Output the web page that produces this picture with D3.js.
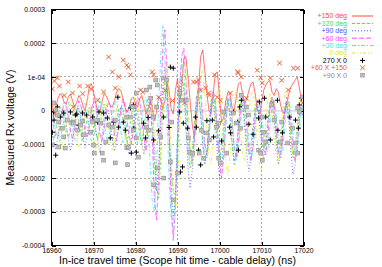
<!DOCTYPE html>
<html>
<head>
<meta charset="utf-8">
<script src="https://cdn.jsdelivr.net/npm/d3@7"></script>
<style>
body { margin: 0; background: #fff; }
svg { display: block; font-family: "Liberation Sans", Arial, sans-serif; }
</style>
</head>
<body>
<div id="chart"></div>
<script>

// Waveforms sampled every 0.5 ns from 16960 ns, values in units of 1e-4 V
var t0 = 16960, dt = 0.5, unit = 1e-4;

var deg150 = [0.4, -0.2, 0.1, 0.35, 0.5, 0.45, 0.25, 0.2, 0.4, 0.5,
    0.3, 0.1, 0.25, 0.45, 0.35, 0.15, 0.0, 0.3, 0.7, 0.8,
    0.55, 0.25, 0.0, -0.05, 0.25, 0.5, 0.45, 0.3, 0.15, 0.1,
    0.3, 0.55, 0.65, 0.6, 0.35, 0.1, -0.05, 0.1, 0.35, 0.4,
    0.2, 0.1, 0.35, 0.45, 0.2, -0.1, 0.05, 0.3, 0.1, -0.3,
    -0.05, 0.4, 0.35, 0.05, 0.3, 0.85, 0.6, 0.05, -0.1, 0.6,
    0.95, 0.2, 0.7, 1.55, 1.6, 1.0, 0.3, -0.4, -0.8, -0.3,
    0.6, 1.6, 1.8, 1.2, 0.5, 0.0, -0.1, 0.5, 1.1, 1.15,
    0.4, -0.35, -0.2, 0.3, 0.55, 0.5, 0.1, 0.0, 0.4, 0.8,
    0.85, 0.5, 0.2, 0.35, 0.6, 0.8, 0.85, 0.5, 0.05, -0.1,
    0.2, 0.6, 0.75, 0.85, 0.9, 0.55, 0.45, 0.65, 0.55, 0.2,
    -0.05, -0.1, 0.2, 0.5, 0.7, 0.8, 0.9, 1.0, 0.7, 0.3,
    0.2];

var deg120 = [-0.6,
    -0.85, -0.6, -0.2, 0.1, 0.05, -0.3, -0.6,
    -0.8, -0.55, -0.15, 0.15, 0.0, -0.35, -0.7,
    -0.9, -0.6, -0.2, 0.1, 0.05, -0.3, -0.65,
    -0.85, -0.5, -0.1, 0.2, 0.0, -0.4, -0.75,
    -0.9, -0.65, -0.25, 0.05, 0.1, -0.3, -0.7,
    -0.95, -0.6, -0.15, 0.2, 0.1, -0.3, -0.7,
    -1.0, -0.5, 0.0, 0.4, 0.3, -0.5, -1.6,
    -2.3, -2.6, -1.4, 0.1, 1.0, 0.6, -0.6, -1.8, -2.4, -2.5,
    -1.5, 0.0, 0.9, 0.8, -0.2, -1.2, -1.7, -1.3, -0.4, 0.4,
    0.6, -0.1, -0.9, -1.5, -1.2, -0.5, 0.3, 0.5, -0.1, -0.9,
    -1.4, -1.1, -0.4, 0.2, 0.4, -0.2, -1.0, -1.6, -1.3, -0.5,
    0.2, 0.3, -0.3, -1.0, -1.3, -1.0, -0.4, 0.1, 0.3, -0.2,
    -0.8, -1.2, -0.9, -0.3, 0.2, 0.4, -0.1, -0.7, -1.3, -1.0,
    -0.4, 0.1, 0.3, -0.2, -0.8, -1.4, -1.1, -0.5, 0.0, 0.2,
    -0.2];

var deg90 = [-0.5, -0.9,
    -1.15, -0.8, -0.3, 0.05, 0.0, -0.4, -0.8,
    -1.2, -0.9, -0.35, 0.0, 0.1, -0.3, -0.8,
    -1.1, -0.7, -0.2, 0.1, 0.0, -0.5, -0.9,
    -1.25, -0.85, -0.3, 0.05, 0.0, -0.4, -0.85,
    -1.2, -0.8, -0.25, 0.1, 0.05, -0.4, -0.9,
    -1.3, -0.9, -0.3, 0.1, 0.0, -0.45, -0.95,
    -1.3, -0.6, 0.1, 0.5, 0.2, -1.0,
    -2.4, -1.8, -0.4, 0.7, 1.3, 0.8, -0.6, -2.2, -3.2, -2.6,
    -0.9, 0.4, 1.0, 0.6, -0.5, -1.7, -2.3, -1.8, -0.8, 0.1,
    0.4, -0.1, -1.0, -1.6, -1.3, -0.5, 0.2, 0.3, -0.4, -1.3,
    -2.0, -1.6, -0.7, 0.0, 0.3, -0.1, -0.9, -1.5, -1.2, -0.4,
    0.2, 0.2, -0.5, -1.3, -1.8, -1.4, -0.6, 0.0, 0.2, -0.3,
    -1.0, -1.4, -1.1, -0.4, 0.1, 0.2, -0.3, -1.0, -1.6, -1.3,
    -0.6, 0.0, 0.2, -0.3, -1.2, -1.9, -1.6, -0.8, -0.1, 0.1,
    -0.3];

var deg60 = [-0.2, -0.5, -0.75,
    -0.8, -0.5, -0.1, 0.25, 0.2, -0.2, -0.6,
    -0.85, -0.55, -0.1, 0.3, 0.15, -0.25, -0.6,
    -0.8, -0.5, 0.0, 0.3, 0.2, -0.2, -0.65,
    -0.9, -0.6, -0.1, 0.25, 0.15, -0.3, -0.7,
    -0.9, -0.5, 0.0, 0.35, 0.2, -0.3, -0.75,
    -1.0, -0.6, 0.0, 0.4, 0.3, -0.3, -0.8,
    -1.2, -0.5, 0.4, -0.8, -2.6,
    -3.25, -2.0, 0.2, 1.8, 2.4, 1.2, -0.8, -2.8, -3.85, -2.9,
    -0.9, 0.7, 1.6, 1.85, 0.9, -0.4, -1.2, -1.5, -0.9, 0.2,
    0.9, 0.7, -0.2, -1.0, -1.3, -0.8, 0.1, 0.6, 0.3, -0.6,
    -1.5, -2.0, -1.4, -0.4, 0.3, 0.4, -0.3, -1.1, -1.4, -0.9,
    -0.1, 0.4, 0.2, -0.5, -1.2, -1.5, -1.0, -0.2, 0.3, 0.3,
    -0.4, -1.1, -1.3, -0.8, 0.0, 0.4, 0.2, -0.5, -1.2, -1.4,
    -0.9, -0.1, 0.4, 0.3, -0.4, -1.1, -1.5, -1.1, -0.3, 0.2,
    0.1];

var deg30 = [-0.1, -0.3, -0.6, -0.85,
    -0.9, -0.6, -0.2, 0.2, 0.3, 0.0, -0.5,
    -0.85, -0.9, -0.5, -0.1, 0.25, 0.2, -0.2,
    -0.6, -0.9, -0.8, -0.4, 0.0, 0.3, 0.15,
    -0.3, -0.75, -0.95, -0.7, -0.2, 0.2, 0.3,
    -0.1, -0.6, -0.95, -0.8, -0.3, 0.15, 0.35,
    0.0, -0.5, -1.0, -0.9, -0.3, 0.3, 0.4,
    -0.4, -1.6, -2.7, -3.0,
    -1.8, 0.2, 1.6, 2.5, 1.6, -0.2, -2.0, -3.2, -3.6, -2.6,
    -0.6, 0.8, 1.4, 1.2, 0.2, -0.8, -1.5, -1.6, -0.8, 0.1,
    0.6, 0.4, -0.4, -1.2, -1.4, -0.8, 0.0, 0.4, 0.2, -0.5,
    -1.2, -1.6, -1.2, -0.3, 0.3, 0.3, -0.3, -1.0, -1.5, -1.2,
    -0.4, 0.2, 0.3, -0.2, -0.9, -1.4, -1.2, -0.5, 0.1, 0.3,
    0.0, -0.7, -1.3, -1.2, -0.5, 0.1, 0.3, -0.1, -0.8, -1.3,
    -1.2, -0.5, 0.1, 0.3, 0.0, -0.7, -1.3, -1.3, -0.6, 0.0,
    0.2];

var deg0 = [0.0, 0.2, 0.0, -0.4, -0.9,
    -1.15, -0.9, -0.4, 0.1, 0.4, 0.2, -0.3,
    -0.8, -1.1, -1.0, -0.5, 0.1, 0.4, 0.3,
    -0.2, -0.8, -1.15, -1.0, -0.4, 0.2, 0.5,
    0.3, -0.3, -0.9, -1.2, -0.9, 0.0, 0.6,
    0.75, 0.3, -0.4, -1.0, -1.2, -0.8, 0.0,
    0.5, 0.4, -0.3, -1.0, -1.3, -0.9, 0.0,
    0.5, 0.2, -0.8,
    -1.7, -2.0, -1.2, 0.2, 1.1, 1.3, 0.3, -1.2, -2.4, -2.95,
    -2.4, -0.8, 0.6, 1.4, 1.2, 0.2, -0.9, -1.6, -1.4, -0.5,
    0.4, 1.0, 1.2, 0.5, -0.6, -1.4, -1.6, -1.0, 0.0, 0.6,
    0.7, 0.1, -0.8, -1.6, -1.9, -1.3, -0.3, 0.4, 0.6, 0.2,
    -0.6, -1.3, -1.5, -1.0, -0.1, 0.5, 0.6, 0.0, -0.9, -1.6,
    -1.8, -1.2, -0.3, 0.4, 0.5, 0.0, -0.8, -1.4, -1.5, -0.9,
    -0.1, 0.5, 0.6, 0.1, -0.7, -1.3, -1.4, -0.8, 0.0, 0.5,
    0.4];

// Measured points [time ns, value 1e-4 V]
var cross270x0 = [[16960.2, -0.64], [16960.5, -0.04], [16960.6, -0.28], [16961.0, -1.32],
    [16961.4, 0.11], [16962.1, -0.19], [16962.9, -0.07], [16964.5, -0.04], [16965.7, -0.13],
    [16966.0, -0.1], [16966.4, -0.43], [16967.4, -0.07], [16968.3, -0.13], [16969.8, -0.19],
    [16971.0, -0.34], [16971.3, -0.04], [16972.4, -0.07], [16973.3, -0.22], [16974.0, -0.81],
    [16974.8, -0.34], [16975.8, 0.4], [16976.0, -0.49], [16977.1, -0.34], [16977.6, -0.58],
    [16978.8, 0.08], [16979.0, -1.26], [16979.5, 0.17], [16979.6, -0.52], [16980.2, -1.23],
    [16981.9, -0.37], [16982.4, -0.81], [16983.0, -0.2], [16984.3, -0.87], [16985.5, -0.6],
    [16986.7, -0.19], [16988.0, -0.5], [16988.3, 1.29], [16989.0, 1.26], [16990.5, -0.04],
    [16990.7, -1.82], [16991.2, -1.67], [16991.4, -0.37], [16992.4, -0.52], [16994.3, -0.19],
    [16994.5, -0.49], [16995.0, -1.17], [16995.5, -1.61], [16997.0, -0.3], [16998.3, -0.28],
    [16998.6, -0.78], [17000.5, -0.9], [17002.4, -0.49], [17002.6, -0.66], [17003.3, -0.04],
    [17004.3, -0.34], [17004.5, -1.17], [17004.8, 0.11], [17005.2, 0.31], [17007.0, -0.4],
    [17008.0, -0.7], [17009.3, -0.22], [17009.5, 0.26], [17010.7, 0.37], [17011.0, -0.19],
    [17012.1, -0.87], [17013.8, 0.31], [17013.9, -0.58], [17015.0, -0.66], [17016.7, -0.19],
    [17018.1, -0.28], [17018.8, -0.52], [17019.0, 0.17], [17019.5, 0.37]];

var cross60x150 = [[16960.2, 0.64], [16960.7, 0.88], [16961.4, 0.97], [16961.9, 0.73],
    [16963.0, 0.45], [16964.0, 0.85], [16965.0, 0.52], [16965.2, 0.11], [16966.7, 0.73],
    [16967.4, 0.5], [16968.6, 0.73], [16969.5, 0.64], [16971.0, 0.31], [16972.4, 0.55],
    [16973.6, 1.59], [16974.5, 1.15], [16975.2, 0.67], [16976.0, 1.0], [16977.1, 1.5],
    [16977.9, 1.35], [16978.3, 1.29], [16978.8, 1.06], [16981.2, 0.61], [16981.7, 0.55],
    [16984.0, 1.15], [16984.3, 1.06], [16985.5, 0.4], [16987.1, 0.6], [16988.8, 0.3],
    [16990.7, 0.52], [16991.7, 0.23], [16993.8, 0.85], [16994.5, 0.85], [16995.0, 0.91],
    [16995.5, 0.61], [16996.7, 0.67], [16997.4, 0.52], [16997.6, 0.46], [16998.8, 1.06],
    [16999.5, 0.4], [17000.2, 0.31], [17002.6, 0.52], [17004.3, 1.15], [17004.5, 1.12],
    [17005.2, 1.0], [17006.4, 0.37], [17009.0, 1.2], [17009.8, 0.97], [17010.2, 0.82],
    [17012.1, 0.97], [17012.6, 0.23], [17014.3, 1.41], [17014.8, 0.9], [17016.4, 0.61],
    [17017.6, 1.26], [17018.6, 1.26], [17019.8, 0.23]];

var cross90x0 = [[16960.5, 0.23], [16961.0, 0.02], [16961.4, -0.13], [16961.7, -0.34],
    [16960.2, -1.02], [16961.7, -1.08], [16962.6, -0.52], [16962.9, -0.78], [16963.3, -1.11],
    [16963.8, -0.28], [16965.0, -0.34], [16965.2, -0.37], [16966.2, -0.58], [16966.9, -0.43],
    [16967.4, -0.31], [16967.6, -0.72], [16969.3, -0.64], [16969.8, -0.34], [16970.0, -1.02],
    [16970.2, -1.26], [16971.0, -0.28], [16971.7, -0.37], [16972.1, -1.26], [16972.4, -1.47],
    [16972.9, -0.93], [16973.6, -0.43], [16974.5, -0.49], [16975.2, -1.55], [16975.2, -0.28],
    [16977.9, -0.19], [16977.9, -1.1], [16978.1, -1.6], [16978.3, -1.08], [16978.8, -0.19],
    [16979.3, 0.11], [16979.5, -0.58], [16980.2, 0.52], [16980.2, -0.81], [16980.7, -1.38],
    [16982.6, 0.61], [16982.6, -0.49], [16983.1, -0.58], [16983.6, 0.37], [16983.4, 0.7],
    [16984.3, -0.19], [16984.3, -2.2], [16984.8, 0.91], [16985.0, 0.11], [16985.2, 0.76],
    [16985.2, -1.7], [16986.0, -0.78], [16986.7, 0.97], [16986.7, -2.0], [16987.4, 0.91],
    [16988.3, -1.52], [16988.6, -0.34], [16989.0, -2.65], [16990.0, -1.85], [16990.5, 0.52],
    [16991.0, 0.31], [16992.1, 0.31], [16992.6, -0.81], [16992.9, -1.23], [16993.6, -1.26],
    [16995.2, -1.26], [16995.7, -0.58], [16996.2, -1.41], [16996.9, -0.66], [16997.6, -0.87],
    [16999.3, -0.49], [16999.8, -0.37], [16999.8, -1.41], [17000.2, -1.55], [17001.0, -0.04],
    [17001.7, -1.26], [17003.3, -0.07], [17004.0, -0.37], [17005.0, -0.52], [17005.2, 0.46],
    [17006.4, 0.11], [17006.9, -0.13], [17009.3, -1.17], [17009.8, -1.26], [17010.2, -1.47],
    [17010.2, -0.19], [17010.5, -0.64], [17011.0, -0.93], [17012.4, 0.17], [17013.1, -0.28],
    [17014.5, -0.93], [17014.8, -0.34], [17016.2, -0.96], [17017.4, -0.52], [17018.1, -0.96],
    [17018.6, -1.26], [17018.6, 0.08], [17019.0, -0.04], [17019.8, 0.4]];

var xTicks = [16960, 16970, 16980, 16990, 17000, 17010, 17020];
var yTicks = [-4e-4, -3e-4, -2e-4, -1e-4, 0, 1e-4, 2e-4, 3e-4];
var yTickLabels = ["-0.0004", "-0.0003", "-0.0002", "-0.0001", "0", "1e-04", "0.0002", "0.0003"];

var lineSeries = [
    { name: "+150 deg", values: deg150, color: "#ff4646", dash: null },
    { name: "+120 deg", values: deg120, color: "#44dc44", dash: "3,2" },
    { name: "+90 deg", values: deg90, color: "#5050ff", dash: "1,2" },
    { name: "+60 deg", values: deg60, color: "#ff48ff", dash: "5,2" },
    { name: "+30 deg", values: deg30, color: "#3ae6e6", dash: "4,2,1,2" },
    { name: "0 deg", values: deg0, color: "#e8e800", dash: "3,2,1,2,1,2" }
];
var pointSeries = [
    { name: "270 X 0", values: cross270x0, color: "#000", shape: "plus" },
    { name: "+60 X +150", values: cross60x150, color: "#f25a2c", shape: "cross" },
    { name: "+90 X 0", values: cross90x0, color: "#8c8c8c", shape: "box" }
];

var W = 382, H = 267;
var frame = { left: 51.5, right: 303.5, top: 9.5, bottom: 245.5 };

var x = d3.scaleLinear().domain([16960, 17020]).range([frame.left, frame.right]);
var y = d3.scaleLinear().domain([-4e-4, 3e-4]).range([frame.bottom, frame.top]);

var svg = d3.select("#chart").append("svg")
    .attr("width", W)
    .attr("height", H);

svg.append("defs").append("clipPath").attr("id", "plotclip")
    .append("rect")
    .attr("x", frame.left).attr("y", frame.top)
    .attr("width", frame.right - frame.left).attr("height", frame.bottom - frame.top);

// Grid
var grid = svg.append("g").attr("stroke", "#a9a9a9").attr("stroke-dasharray", "2,2")
    .attr("shape-rendering", "crispEdges");
grid.selectAll(".gx").data(xTicks.slice(1, -1)).enter().append("line")
    .attr("x1", function (d) { return x(d); }).attr("x2", function (d) { return x(d); })
    .attr("y1", frame.top).attr("y2", frame.bottom);
grid.selectAll(".gy").data(yTicks.slice(1, -1)).enter().append("line")
    .attr("x1", frame.left).attr("x2", frame.right)
    .attr("y1", function (d) { return y(d); }).attr("y2", function (d) { return y(d); });

// zero axis
svg.append("line")
    .attr("x1", frame.left).attr("x2", frame.right)
    .attr("y1", y(0)).attr("y2", y(0))
    .attr("stroke", "#e0e0e0").attr("stroke-width", 2);

// Axes with inward ticks on all four sides
function styleAxis(g) {
    g.select(".domain").remove();
    g.selectAll(".tick line").attr("stroke", "#000").attr("shape-rendering", "crispEdges");
    g.selectAll("text").attr("fill", "#000").style("font-size", "6.8px")
        .style("font-family", "'Liberation Sans', Arial, sans-serif");
}
svg.append("g").attr("transform", "translate(" + frame.left + ",0)")
    .call(d3.axisLeft(y).tickValues(yTicks).tickSize(-4).tickPadding(6.5)
        .tickFormat(function (d, i) { return yTickLabels[i]; }))
    .call(styleAxis);
svg.append("g").attr("transform", "translate(" + frame.right + ",0)")
    .call(d3.axisRight(y).tickValues(yTicks).tickSize(-4).tickFormat(""))
    .call(styleAxis);
svg.append("g").attr("transform", "translate(0," + frame.bottom + ")")
    .call(d3.axisBottom(x).tickValues(xTicks).tickSize(-4).tickPadding(2.5)
        .tickFormat(d3.format("d")))
    .call(styleAxis);
svg.append("g").attr("transform", "translate(0," + frame.top + ")")
    .call(d3.axisTop(x).tickValues(xTicks).tickSize(-4).tickFormat(""))
    .call(styleAxis);

// Waveform lines
var plot = svg.append("g").attr("clip-path", "url(#plotclip)");
var line = d3.line()
    .x(function (d, i) { return x(t0 + i * dt); })
    .y(function (d) { return y(d * unit); });

lineSeries.forEach(function (s) {
    plot.append("path")
        .attr("d", line(s.values))
        .attr("fill", "none")
        .attr("stroke", s.color)
        .attr("stroke-width", 0.9)
        .attr("stroke-opacity", 0.85)
        .attr("stroke-dasharray", s.dash);
});

// Point markers
function drawMarker(g, shape, color) {
    if (shape === "plus") {
        g.append("path").attr("d", "M-2.5,0H2.5M0,-2.5V2.5")
            .attr("stroke", color).attr("stroke-width", 1).attr("fill", "none");
    } else if (shape === "cross") {
        g.append("path").attr("d", "M-2.3,-2.3L2.3,2.3M-2.3,2.3L2.3,-2.3")
            .attr("stroke", color).attr("stroke-width", 1).attr("fill", "none");
    } else {
        g.append("rect").attr("x", -1.8).attr("y", -1.8).attr("width", 3.6).attr("height", 3.6)
            .attr("stroke", "#9a9a9a").attr("stroke-width", 0.9).attr("fill", "#e2e2e2");
        g.append("path").attr("d", "M-1.3,-1.3L1.3,1.3M-1.3,1.3L1.3,-1.3")
            .attr("stroke", color).attr("stroke-width", 0.6);
    }
}

pointSeries.forEach(function (s) {
    plot.selectAll(null).data(s.values).enter().append("g")
        .attr("transform", function (d) { return "translate(" + x(d[0]) + "," + y(d[1] * unit) + ")"; })
        .each(function () { drawMarker(d3.select(this), s.shape, s.color); });
});

// Border
svg.append("rect")
    .attr("x", frame.left).attr("y", frame.top)
    .attr("width", frame.right - frame.left).attr("height", frame.bottom - frame.top)
    .attr("fill", "none").attr("stroke", "#000").attr("stroke-width", 1)
    .attr("shape-rendering", "crispEdges");

// Legend
var keyTextX = 347, keySampleX1 = 352, keySampleX2 = 373, keyY0 = 16, keyStep = 7.4;
var key = svg.append("g").style("font-size", "7px");

lineSeries.forEach(function (s, i) {
    var yy = keyY0 + i * keyStep;
    key.append("text").attr("x", keyTextX).attr("y", yy).attr("dy", "0.35em")
        .attr("text-anchor", "end").attr("fill", s.color).text(s.name);
    key.append("line").attr("x1", keySampleX1).attr("x2", keySampleX2)
        .attr("y1", yy).attr("y2", yy)
        .attr("stroke", s.color).attr("stroke-width", 1)
        .attr("stroke-dasharray", s.dash);
});
pointSeries.forEach(function (s, i) {
    var yy = keyY0 + (i + lineSeries.length) * keyStep;
    key.append("text").attr("x", keyTextX).attr("y", yy).attr("dy", "0.35em")
        .attr("text-anchor", "end").attr("fill", s.color).text(s.name);
    var g = key.append("g").attr("transform", "translate(" + ((keySampleX1 + keySampleX2) / 2) + "," + yy + ")");
    drawMarker(g, s.shape, s.color);
});

// Axis titles
svg.append("text")
    .attr("transform", "translate(10," + ((frame.top + frame.bottom) / 2) + ") rotate(-90)")
    .attr("text-anchor", "middle").attr("dy", "0.35em")
    .style("font-size", "10.5px")
    .text("Measured Rx voltage (V)");

svg.append("text")
    .attr("x", (frame.left + frame.right) / 2)
    .attr("y", 264)
    .attr("text-anchor", "middle")
    .style("font-size", "10.5px")
    .text("In-ice travel time (Scope hit time - cable delay) (ns)");

</script>
</body>
</html>
